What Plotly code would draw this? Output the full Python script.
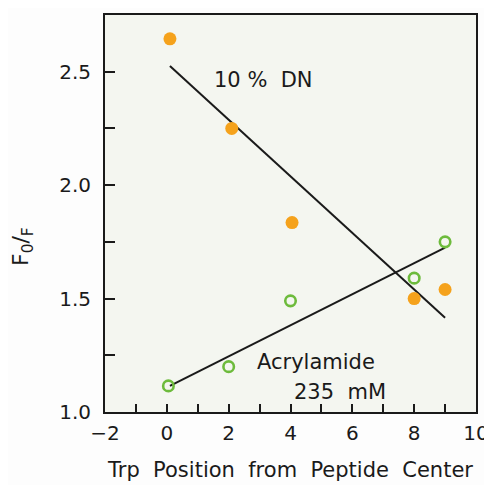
import plotly.graph_objects as go

# Data
dn_x = [0.1, 2.1, 4.05, 8.0, 9.0]
dn_y = [2.645, 2.25, 1.835, 1.50, 1.54]
acr_x = [0.05, 2.0, 4.0, 8.0, 9.0]
acr_y = [1.115, 1.20, 1.49, 1.59, 1.75]

dn_fit_x = [0.1, 9.0]
dn_fit_y = [2.525, 1.415]
acr_fit_x = [0.1, 9.0]
acr_fit_y = [1.115, 1.725]

x_ticks = [-2, 0, 2, 4, 6, 8, 10]
y_ticks = [1.0, 1.5, 2.0, 2.5]

FONT = "DejaVu Sans"
ORANGE = "#f5a21c"
GREEN = "#6dbb3c"
INK = "#1a1a1a"

fig = go.Figure()
fig.add_trace(go.Scatter(x=dn_fit_x, y=dn_fit_y, mode="lines",
                         line=dict(color=INK, width=2), showlegend=False))
fig.add_trace(go.Scatter(x=acr_fit_x, y=acr_fit_y, mode="lines",
                         line=dict(color=INK, width=2), showlegend=False))
fig.add_trace(go.Scatter(x=dn_x, y=dn_y, mode="markers",
                         marker=dict(color=ORANGE, size=13, line=dict(width=0)),
                         showlegend=False))
fig.add_trace(go.Scatter(x=acr_x, y=acr_y, mode="markers",
                         marker=dict(color="rgba(0,0,0,0)", size=10.5,
                                     line=dict(color=GREEN, width=2.6)),
                         showlegend=False))

fig.add_annotation(x=1.45, y=2.465, xref="x", yref="y", text="10\u00a0%\u00a0\u00a0DN",
                   showarrow=False, xanchor="left", yanchor="middle",
                   font=dict(family=FONT, size=21, color=INK))
fig.add_annotation(x=2.85, y=1.22, xref="x", yref="y", text="Acrylamide",
                   showarrow=False, xanchor="left", yanchor="middle",
                   font=dict(family=FONT, size=21, color=INK))
fig.add_annotation(x=7.15, y=1.088, xref="x", yref="y", text="235\u00a0\u00a0mM",
                   showarrow=False, xanchor="right", yanchor="middle",
                   font=dict(family=FONT, size=21, color=INK))
# y-axis title (placed lower than the axis centre, as in the reference)
fig.add_annotation(x=-0.222, y=1.73, xref="paper", yref="y",
                   text="F<sub>0</sub>/<sub>F</sub>", textangle=-90,
                   showarrow=False, xanchor="center", yanchor="middle",
                   font=dict(family=FONT, size=22, color=INK))

axis_common = dict(showline=True, linecolor=INK, linewidth=2, mirror=True,
                   ticks="inside", tickcolor=INK, tickwidth=2,
                   showgrid=False, zeroline=False, automargin=False,
                   tickfont=dict(family=FONT, size=20, color=INK))

fig.update_xaxes(range=[-2, 10], tickvals=x_ticks,
                 ticktext=["\u22122" if v < 0 else str(v) for v in x_ticks],
                 ticklen=8,
                 minor=dict(dtick=1, tick0=0, ticks="inside", ticklen=8,
                            tickcolor=INK, tickwidth=2),
                 ticklabelstandoff=2,
                 title=dict(text="Trp\u00a0\u00a0Position\u00a0\u00a0from\u00a0\u00a0Peptide\u00a0\u00a0Center",
                            font=dict(family=FONT, size=21, color=INK),
                            standoff=18),
                 **axis_common)
fig.update_yaxes(range=[1.0, 2.75], tickvals=y_ticks,
                 ticktext=[f"{v:.1f}" for v in y_ticks],
                 ticklen=10,
                 minor=dict(dtick=0.25, tick0=1.0, ticks="inside", ticklen=10,
                            tickcolor=INK, tickwidth=2),
                 ticklabelstandoff=8,
                 **axis_common)

# the page body adds an 8px offset, so the figure is 8px smaller
fig.update_layout(width=484, height=477,
                  margin=dict(l=97, r=16, t=7, b=73),
                  paper_bgcolor="#fdfdfd", plot_bgcolor="#f4f6f0")

fig.write_html("out.html")
